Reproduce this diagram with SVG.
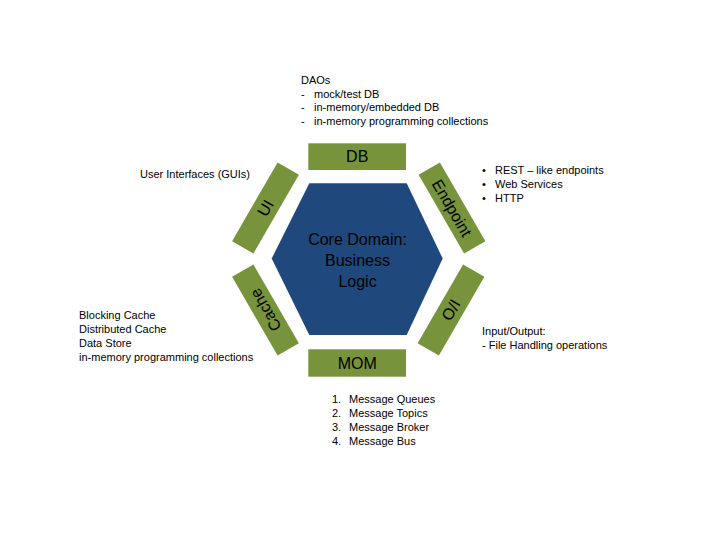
<svg xmlns="http://www.w3.org/2000/svg" width="720" height="540" viewBox="0 0 720 540">
<style>
  text { font-family: "Liberation Sans", Arial, sans-serif; fill: #000; }
  .note { font-size: 11px; }
  .lbl { font-size: 16px; text-anchor: middle; }
  .core { font-size: 16px; text-anchor: middle; }
  .box { fill: #77933C; }
  .hex { fill: #1F497D; }
</style>
<rect width="720" height="540" fill="#ffffff"/>

<g id="core">
  <polygon class="hex" points="309.3,183.3 406.7,183.3 442.7,258.5 406.7,335 309.3,335 271.7,258.5"/>
  <text class="core" x="357.5" y="245">Core Domain:</text>
  <text class="core" x="357.5" y="266">Business</text>
  <text class="core" x="357.5" y="287">Logic</text>
</g>

<g id="db">
  <rect class="box" x="308.3" y="143.3" width="97.7" height="26.7"/>
  <text class="lbl" x="357.2" y="162.3">DB</text>
</g>

<g id="mom">
  <rect class="box" x="308.3" y="349.3" width="97.7" height="27.4"/>
  <text class="lbl" x="357.2" y="368.6">MOM</text>
</g>

<g id="ui" transform="translate(265.5,208) rotate(-60)">
  <rect class="box" x="-45.5" y="-12.3" width="91" height="24.6"/>
  <text class="lbl" x="0" y="5.6">UI</text>
</g>

<g id="endpoint" transform="translate(452,208) rotate(60)">
  <rect class="box" x="-45.5" y="-12.3" width="91" height="24.6"/>
  <text class="lbl" x="0" y="5.6">Endpoint</text>
</g>

<g id="io" transform="translate(451,310) rotate(120)">
  <rect class="box" x="-45.5" y="-12.3" width="91" height="24.6"/>
  <text class="lbl" x="0" y="5.6">I/O</text>
</g>

<g id="cache" transform="translate(265.5,310) rotate(-120)">
  <rect class="box" x="-45.5" y="-12.3" width="91" height="24.6"/>
  <text class="lbl" x="0" y="5.6">Cache</text>
</g>

<g id="db-notes" class="note">
  <text class="note" x="301" y="83.5">DAOs</text>
  <text class="note" x="301" y="97.5">-</text>
  <text class="note" x="314" y="97.5">mock/test DB</text>
  <text class="note" x="301" y="111">-</text>
  <text class="note" x="314" y="111">in-memory/embedded DB</text>
  <text class="note" x="301" y="124.5">-</text>
  <text class="note" x="314" y="124.5">in-memory programming collections</text>
</g>

<g id="ui-notes">
  <text class="note" x="140" y="177.5">User Interfaces (GUIs)</text>
</g>

<g id="endpoint-notes">
  <text class="note" x="482" y="174">•</text>
  <text class="note" x="495" y="174">REST – like endpoints</text>
  <text class="note" x="482" y="188">•</text>
  <text class="note" x="495" y="188">Web Services</text>
  <text class="note" x="482" y="202">•</text>
  <text class="note" x="495" y="202">HTTP</text>
</g>

<g id="io-notes">
  <text class="note" x="482" y="335">Input/Output:</text>
  <text class="note" x="482" y="349">- File Handling operations</text>
</g>

<g id="cache-notes">
  <text class="note" x="79" y="319">Blocking Cache</text>
  <text class="note" x="79" y="333">Distributed Cache</text>
  <text class="note" x="79" y="347">Data Store</text>
  <text class="note" x="79" y="361">in-memory programming collections</text>
</g>

<g id="mom-notes">
  <text class="note" x="332" y="403">1.</text>
  <text class="note" x="349" y="403">Message Queues</text>
  <text class="note" x="332" y="417">2.</text>
  <text class="note" x="349" y="417">Message Topics</text>
  <text class="note" x="332" y="431">3.</text>
  <text class="note" x="349" y="431">Message Broker</text>
  <text class="note" x="332" y="445">4.</text>
  <text class="note" x="349" y="445">Message Bus</text>
</g>
</svg>
